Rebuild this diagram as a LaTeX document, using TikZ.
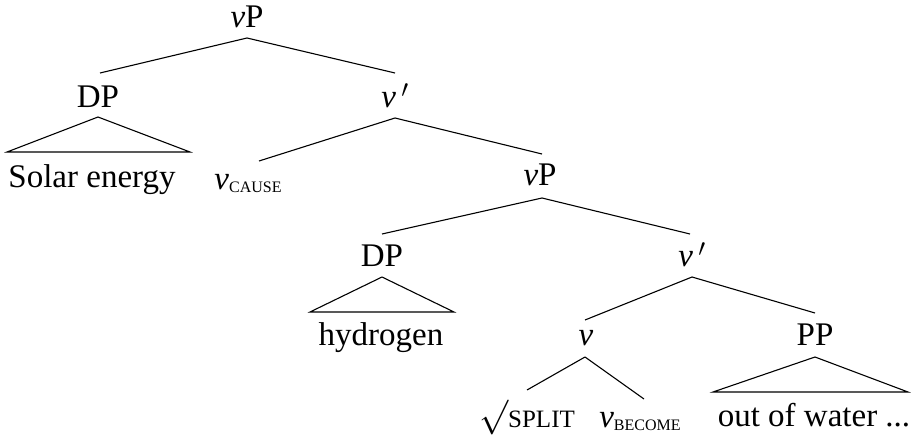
\documentclass[tikz,border=0pt]{standalone}
\usepackage{graphicx}
\usepackage{fontspec}
\setmainfont{Liberation Serif}
\newcommand{\nvv}{{\itshape ν}}
\newcommand{\subsc}[1]{\raisebox{-3pt}{\fontsize{16}{16}\selectfont #1}}
\tikzset{
  lab/.style={anchor=base, inner sep=0pt, font=\fontsize{33}{38}\selectfont},
  edge/.style={line width=1.1pt},
}
\begin{document}
\begin{tikzpicture}[x=1pt,y=-1pt]
\useasboundingbox (0,0) rectangle (911,436);
% nodes
\node[lab] (vp1) at (247,28) {\nvv P};
\node[lab] (dp1) at (98,107) {DP};
\node[lab] (vbar1) at (395,107) {\nvv\,$^{\prime}$};
\node[lab] (solar) at (92,187) {Solar energy};
\node[lab] (vcause) at (248,189) {\nvv\subsc{CAUSE}};
\node[lab] (vp2) at (540,185) {\nvv P};
\node[lab] (dp2) at (382,266) {DP};
\node[lab] (vbar2) at (692,266) {\nvv\,$^{\prime}$};
\node[lab] (hyd) at (381,345) {hydrogen};
\node[lab] (vv) at (586,345) {\nvv};
\node[lab] (pp) at (815,345) {PP};
\node[lab] (split) at (527,427) {\raisebox{1pt}{\scalebox{1.4}{$\surd$}}\fontsize{25}{30}\selectfont SPLIT};
\node[lab] (vbecome) at (640,427) {\nvv\subsc{BECOME}};
\node[lab] (out) at (814,426) {out of water ...};
% edges
\draw[edge] ([yshift=-10pt]vp1.base) -- ([xshift=2pt,yshift=34pt]dp1.base);
\draw[edge] ([yshift=-10pt]vp1.base) -- ([yshift=34pt]vbar1.base);
\draw[edge] ([yshift=-11pt]vbar1.base) -- ([xshift=11pt,yshift=28pt]vcause.base);
\draw[edge] ([yshift=-11pt]vbar1.base) -- ([xshift=2pt,yshift=31pt]vp2.base);
\draw[edge] ([xshift=2pt,yshift=-13pt]vp2.base) -- ([yshift=32pt]dp2.base);
\draw[edge] ([xshift=2pt,yshift=-13pt]vp2.base) -- ([xshift=-2pt,yshift=32pt]vbar2.base);
\draw[edge] ([yshift=-11pt]vbar2.base) -- ([xshift=-1pt,yshift=25pt]vv.base);
\draw[edge] ([yshift=-11pt]vbar2.base) -- ([yshift=32pt]pp.base);
\draw[edge] ([xshift=-1pt,yshift=-12pt]vv.base) -- ([yshift=37pt]split.base);
\draw[edge] ([xshift=-1pt,yshift=-12pt]vv.base) -- ([xshift=4pt,yshift=28pt]vbecome.base);
% triangles
\draw[edge] ([yshift=-10pt]dp1.base) -- (7,152) -- (190,152) -- cycle;
\draw[edge] ([yshift=-11pt]dp2.base) -- (310,312) -- (454,312) -- cycle;
\draw[edge] ([yshift=-12pt]pp.base) -- (713,392) -- (908,392) -- cycle;
\end{tikzpicture}
\end{document}
